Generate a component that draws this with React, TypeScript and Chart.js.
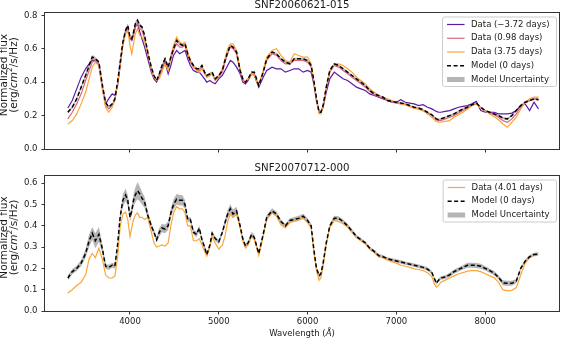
import React, { useEffect, useRef } from "react";
import { Chart, registerables } from "chart.js";

Chart.register(...registerables);

const FONT = '"DejaVu Sans", "Liberation Sans", sans-serif';

// ---------- data ----------
const WAVELENGTH = [
  3300, 3350, 3400, 3450, 3500, 3540, 3575, 3610, 3650, 3690,
  3725, 3760, 3800, 3830, 3860, 3890, 3920, 3950, 3975, 4000,
  4020, 4040, 4060, 4085, 4110, 4135, 4165, 4200, 4240, 4270,
  4300, 4330, 4360, 4395, 4430, 4460, 4490, 4525, 4560, 4590,
  4620, 4650, 4680, 4715, 4750, 4780, 4810, 4840, 4865, 4900,
  4925, 4960, 5000, 5040, 5070, 5100, 5130, 5160, 5200, 5240,
  5270, 5300, 5330, 5370, 5400, 5450, 5500, 5540, 5600, 5650,
  5700, 5750, 5800, 5850, 5900, 5950, 6000, 6040, 6070, 6100,
  6130, 6150, 6175, 6210, 6250, 6300, 6350, 6400, 6450, 6500,
  6550, 6600, 6650, 6700, 6750, 6800, 6850, 6900, 6950, 7000,
  7050, 7100, 7150, 7200, 7250, 7300, 7350, 7400, 7430, 7450,
  7475, 7500, 7550, 7600, 7650, 7700, 7750, 7800, 7850, 7900,
  7950, 8000, 8050, 8100, 8150, 8200, 8250, 8300, 8350, 8400,
  8450, 8500, 8550, 8600,
];

// SNF20060621-015
const TOP_DATA_M372 = [
  0.245, 0.29, 0.36, 0.43, 0.48, 0.51, 0.53, 0.53, 0.5, 0.36,
  0.27, 0.3, 0.33, 0.32, 0.38, 0.5, 0.63, 0.7, 0.72, 0.66,
  0.65, 0.68, 0.73, 0.75, 0.7, 0.66, 0.61, 0.54, 0.46, 0.42,
  0.4, 0.44, 0.48, 0.52, 0.45, 0.5, 0.56, 0.59, 0.57, 0.58,
  0.59, 0.54, 0.5, 0.47, 0.46, 0.46, 0.44, 0.42, 0.4, 0.41,
  0.4, 0.39, 0.42, 0.44, 0.47, 0.5, 0.53, 0.52, 0.49, 0.45,
  0.4, 0.39, 0.41, 0.45, 0.44, 0.37, 0.43, 0.47, 0.49, 0.48,
  0.48, 0.46, 0.47, 0.48, 0.48, 0.46, 0.47, 0.46, 0.39, 0.29,
  0.22, 0.22, 0.25, 0.34, 0.42, 0.46, 0.44, 0.42, 0.41, 0.39,
  0.37, 0.36, 0.35, 0.33, 0.32, 0.31, 0.3, 0.29, 0.28, 0.28,
  0.295, 0.28, 0.275, 0.27, 0.26, 0.265, 0.25, 0.24, 0.23, 0.225,
  0.22, 0.22, 0.225, 0.23, 0.24, 0.25, 0.255, 0.26, 0.27, 0.285,
  0.23, 0.22, 0.22, 0.22, 0.21, 0.21, 0.21, 0.215, 0.23, 0.26,
  0.27, 0.23, 0.28, 0.24,
];
const TOP_DATA_P098 = [
  0.18, 0.22, 0.27, 0.33, 0.41, 0.47, 0.52, 0.53, 0.51, 0.37,
  0.26, 0.24, 0.26, 0.29, 0.39, 0.51, 0.63, 0.7, 0.72, 0.66,
  0.65, 0.69, 0.73, 0.75, 0.72, 0.71, 0.66, 0.57, 0.48, 0.43,
  0.41, 0.44, 0.49, 0.53, 0.48, 0.54, 0.59, 0.63, 0.61, 0.61,
  0.62, 0.56, 0.52, 0.49, 0.47, 0.47, 0.49, 0.45, 0.43, 0.44,
  0.45, 0.41, 0.43, 0.46, 0.52, 0.57, 0.61, 0.6, 0.57, 0.46,
  0.41, 0.4, 0.42, 0.45, 0.45, 0.38, 0.46, 0.53, 0.57, 0.56,
  0.53, 0.51, 0.51, 0.53, 0.53, 0.53, 0.52, 0.49, 0.4, 0.3,
  0.22, 0.22, 0.26, 0.36, 0.46, 0.5, 0.49, 0.47, 0.45, 0.43,
  0.41, 0.39, 0.37, 0.345, 0.325, 0.315, 0.305, 0.29, 0.28, 0.275,
  0.27, 0.265, 0.255, 0.245, 0.24, 0.23, 0.215, 0.2, 0.185, 0.175,
  0.17, 0.17, 0.18, 0.19, 0.2, 0.215, 0.23, 0.245, 0.26, 0.27,
  0.245, 0.225, 0.215, 0.205, 0.19, 0.17, 0.16, 0.18, 0.21, 0.25,
  0.275, 0.29, 0.3, 0.3,
];
const TOP_DATA_P375 = [
  0.15, 0.17, 0.21, 0.27, 0.34, 0.42, 0.49, 0.52, 0.5, 0.36,
  0.25, 0.22, 0.25, 0.3, 0.39, 0.51, 0.62, 0.69, 0.71, 0.62,
  0.57, 0.63, 0.69, 0.72, 0.68, 0.67, 0.64, 0.57, 0.48, 0.43,
  0.41, 0.42, 0.46, 0.51, 0.47, 0.56, 0.62, 0.67, 0.64, 0.63,
  0.64, 0.58, 0.53, 0.5, 0.47, 0.46, 0.48, 0.45, 0.43, 0.44,
  0.45, 0.41, 0.44, 0.48, 0.54, 0.6, 0.63, 0.63, 0.59, 0.48,
  0.42, 0.4, 0.42, 0.45, 0.44, 0.38, 0.47, 0.55, 0.59, 0.6,
  0.56, 0.53, 0.52, 0.57, 0.56, 0.55, 0.55, 0.51, 0.41, 0.29,
  0.21, 0.21, 0.25, 0.37, 0.47, 0.51, 0.51, 0.5, 0.48, 0.46,
  0.43, 0.41, 0.39, 0.36, 0.34, 0.32, 0.31, 0.3, 0.29, 0.28,
  0.27, 0.265, 0.255, 0.245, 0.24, 0.23, 0.21, 0.19, 0.175, 0.165,
  0.16, 0.16, 0.165, 0.17, 0.19, 0.205, 0.22, 0.24, 0.26, 0.27,
  0.245, 0.23, 0.21, 0.195, 0.175, 0.15, 0.13, 0.16, 0.19, 0.24,
  0.28, 0.3, 0.31, 0.31,
];
const TOP_MODEL = [
  0.22, 0.25, 0.3, 0.37, 0.44, 0.5, 0.55, 0.54, 0.52, 0.38,
  0.28, 0.25, 0.27, 0.3, 0.4, 0.52, 0.64, 0.71, 0.74, 0.67,
  0.66, 0.7, 0.75, 0.77, 0.74, 0.73, 0.68, 0.58, 0.49, 0.44,
  0.41, 0.45, 0.5, 0.54, 0.49, 0.55, 0.6, 0.65, 0.63, 0.62,
  0.63, 0.57, 0.53, 0.5, 0.48, 0.48, 0.5, 0.46, 0.44, 0.45,
  0.46, 0.42, 0.44, 0.47, 0.53, 0.58, 0.62, 0.61, 0.58, 0.47,
  0.42, 0.4, 0.42, 0.46, 0.46, 0.38, 0.46, 0.54, 0.58, 0.57,
  0.54, 0.52, 0.51, 0.54, 0.54, 0.54, 0.53, 0.5, 0.41, 0.3,
  0.22, 0.22, 0.26, 0.37, 0.47, 0.51, 0.5, 0.48, 0.46, 0.44,
  0.42, 0.4, 0.38, 0.35, 0.33, 0.32, 0.31, 0.29, 0.285, 0.28,
  0.275, 0.27, 0.26, 0.25, 0.245, 0.235, 0.22, 0.205, 0.19, 0.18,
  0.175, 0.18, 0.19, 0.2, 0.21, 0.225, 0.24, 0.25, 0.265, 0.275,
  0.25, 0.23, 0.22, 0.21, 0.2, 0.185, 0.18, 0.2, 0.23, 0.26,
  0.28, 0.29, 0.3, 0.295,
];
const TOP_MODEL_ERR = [
  0.008, 0.008, 0.009, 0.01, 0.01, 0.012, 0.012, 0.012, 0.01, 0.008,
  0.006, 0.006, 0.006, 0.006, 0.008, 0.01, 0.012, 0.012, 0.012, 0.01,
  0.01, 0.012, 0.012, 0.012, 0.012, 0.01, 0.01, 0.008, 0.008, 0.006,
  0.006, 0.008, 0.008, 0.008, 0.008, 0.008, 0.01, 0.01, 0.01, 0.01,
  0.008, 0.006, 0.006, 0.006, 0.006, 0.006, 0.006, 0.006, 0.006, 0.006,
  0.006, 0.006, 0.006, 0.006, 0.008, 0.008, 0.008, 0.008, 0.008, 0.006,
  0.006, 0.006, 0.006, 0.006, 0.006, 0.006, 0.006, 0.006, 0.006, 0.006,
  0.006, 0.006, 0.006, 0.006, 0.006, 0.006, 0.006, 0.006, 0.006, 0.006,
  0.006, 0.006, 0.006, 0.006, 0.006, 0.006, 0.006, 0.006, 0.006, 0.006,
  0.005, 0.005, 0.005, 0.005, 0.005, 0.005, 0.005, 0.005, 0.005, 0.005,
  0.005, 0.005, 0.005, 0.005, 0.005, 0.005, 0.005, 0.005, 0.005, 0.005,
  0.005, 0.005, 0.005, 0.005, 0.005, 0.005, 0.005, 0.005, 0.005, 0.005,
  0.005, 0.005, 0.005, 0.005, 0.005, 0.006, 0.006, 0.006, 0.006, 0.006,
  0.006, 0.006, 0.006, 0.006,
];

// SNF20070712-000
const BOT_DATA_P401 = [
  0.085, 0.1, 0.12, 0.135, 0.17, 0.245, 0.27, 0.25, 0.295, 0.24,
  0.17, 0.155, 0.155, 0.165, 0.25, 0.4, 0.455, 0.465, 0.43, 0.35,
  0.39, 0.43, 0.45, 0.46, 0.44, 0.44, 0.43, 0.44, 0.37, 0.32,
  0.3, 0.305, 0.31, 0.305, 0.32, 0.4, 0.46, 0.49, 0.48, 0.48,
  0.46, 0.4, 0.4, 0.33, 0.33, 0.34, 0.31, 0.28, 0.258, 0.3,
  0.35, 0.32, 0.29, 0.31, 0.35, 0.42, 0.455, 0.44, 0.455, 0.39,
  0.33, 0.295, 0.31, 0.35, 0.335, 0.26, 0.35, 0.43, 0.46, 0.445,
  0.405, 0.39, 0.415, 0.425, 0.43, 0.435, 0.415, 0.39, 0.28, 0.19,
  0.145, 0.155, 0.21, 0.31, 0.39, 0.425, 0.42, 0.41, 0.395, 0.37,
  0.345, 0.33, 0.315, 0.29, 0.275, 0.255, 0.25, 0.24, 0.23, 0.225,
  0.215, 0.21, 0.205, 0.198, 0.195, 0.19, 0.18, 0.16, 0.125, 0.112,
  0.12, 0.135, 0.145, 0.155, 0.165, 0.175, 0.18, 0.187, 0.19, 0.19,
  0.185, 0.175, 0.165, 0.157, 0.134, 0.1, 0.095, 0.097, 0.11, 0.17,
  0.225, 0.25, 0.265, 0.268,
];
const BOT_MODEL = [
  0.155, 0.185, 0.2, 0.225, 0.27, 0.33, 0.365, 0.33, 0.36, 0.29,
  0.21, 0.205, 0.215, 0.21, 0.31, 0.445, 0.52, 0.545, 0.52, 0.44,
  0.47, 0.52, 0.545, 0.565, 0.55, 0.53, 0.51, 0.45, 0.4, 0.37,
  0.335, 0.37, 0.39, 0.385, 0.4, 0.46, 0.5, 0.525, 0.52, 0.52,
  0.5, 0.43, 0.43, 0.37, 0.36, 0.39, 0.335, 0.3, 0.265, 0.31,
  0.365, 0.34, 0.325, 0.37, 0.415, 0.455, 0.48, 0.455, 0.47, 0.4,
  0.34, 0.305, 0.32, 0.36, 0.345, 0.27, 0.36, 0.44, 0.47, 0.455,
  0.42, 0.4, 0.425, 0.43, 0.435, 0.445, 0.425, 0.4, 0.29, 0.2,
  0.165, 0.175, 0.225, 0.32, 0.4, 0.435, 0.435, 0.42, 0.4, 0.375,
  0.35, 0.335, 0.32, 0.295, 0.28, 0.26, 0.255, 0.245, 0.24, 0.235,
  0.23, 0.225, 0.22, 0.215, 0.21, 0.205, 0.197, 0.18, 0.15, 0.13,
  0.145, 0.155, 0.16, 0.17, 0.185, 0.195, 0.205, 0.215, 0.215, 0.214,
  0.21, 0.2, 0.19, 0.178, 0.158, 0.132, 0.13, 0.13, 0.14, 0.2,
  0.234, 0.255, 0.265, 0.268,
];
const BOT_MODEL_ERR = [
  0.012, 0.012, 0.012, 0.015, 0.02, 0.03, 0.03, 0.035, 0.035, 0.02,
  0.012, 0.012, 0.012, 0.012, 0.015, 0.02, 0.03, 0.03, 0.025, 0.02,
  0.02, 0.03, 0.035, 0.04, 0.035, 0.03, 0.025, 0.02, 0.015, 0.012,
  0.012, 0.02, 0.02, 0.02, 0.02, 0.02, 0.025, 0.025, 0.025, 0.025,
  0.02, 0.012, 0.012, 0.012, 0.012, 0.012, 0.012, 0.01, 0.01, 0.01,
  0.012, 0.01, 0.01, 0.012, 0.015, 0.02, 0.022, 0.02, 0.02, 0.012,
  0.01, 0.01, 0.01, 0.012, 0.012, 0.01, 0.01, 0.012, 0.012, 0.012,
  0.01, 0.01, 0.01, 0.012, 0.012, 0.012, 0.01, 0.01, 0.01, 0.01,
  0.01, 0.01, 0.01, 0.01, 0.01, 0.012, 0.01, 0.01, 0.01, 0.01,
  0.008, 0.008, 0.008, 0.008, 0.008, 0.008, 0.008, 0.008, 0.008, 0.008,
  0.008, 0.008, 0.008, 0.008, 0.008, 0.008, 0.008, 0.008, 0.008, 0.008,
  0.008, 0.008, 0.008, 0.01, 0.01, 0.01, 0.01, 0.012, 0.012, 0.012,
  0.012, 0.01, 0.01, 0.01, 0.01, 0.012, 0.012, 0.012, 0.01, 0.008,
  0.008, 0.008, 0.008, 0.008,
];

// ---------- axes / text ----------
const X_MIN = 3043;
const X_MAX = 8831;
const X_TICKS = [4000, 5000, 6000, 7000, 8000];
const X_TICK_LABELS = ["4000", "5000", "6000", "7000", "8000"];
const TOP_Y_MAX = 0.814;
const TOP_Y_TICKS = [0, 0.2, 0.4, 0.6, 0.8];
const TOP_Y_TICK_LABELS = ["0.0", "0.2", "0.4", "0.6", "0.8"];
const BOT_Y_MAX = 0.634;
const BOT_Y_TICKS = [0, 0.1, 0.2, 0.3, 0.4, 0.5, 0.6];
const BOT_Y_TICK_LABELS = ["0.0", "0.1", "0.2", "0.3", "0.4", "0.5", "0.6"];

const TOP_TITLE = "SNF20060621-015";
const BOT_TITLE = "SNF20070712-000";

type Seg = { t: string; italic?: boolean; sup?: boolean };
const Y_LABEL_LINE1: Seg[] = [{ t: "Normalized flux" }];
const Y_LABEL_LINE2: Seg[] = [
  { t: "(erg/" },
  { t: "cm", italic: true },
  { t: "2", sup: true },
  { t: "/s/Hz)" },
];
const X_LABEL: Seg[] = [{ t: "Wavelength (" }, { t: "Å", italic: true }, { t: ")" }];

const COLOR_PURPLE = "#5b1ba6";
const COLOR_PINK = "#dc6580";
const COLOR_ORANGE = "#fca636";
const COLOR_MODEL = "#000000";
const BAND_COLOR = "rgba(150,150,150,0.7)";
const SPINE = "#333333";
const TEXT = "#1a1a1a";

type LineSpec = {
  label: string;
  values: number[];
  color: string;
  width: number;
  dash: number[];
  order: number;
};

const TOP_LINES: LineSpec[] = [
  { label: "Data (\u22123.72 days)", values: TOP_DATA_M372, color: COLOR_PURPLE, width: 1.2, dash: [], order: 3 },
  { label: "Data (0.98 days)", values: TOP_DATA_P098, color: COLOR_PINK, width: 1.2, dash: [], order: 2 },
  { label: "Data (3.75 days)", values: TOP_DATA_P375, color: COLOR_ORANGE, width: 1.2, dash: [], order: 1 },
  { label: "Model (0 days)", values: TOP_MODEL, color: COLOR_MODEL, width: 1.5, dash: [4, 2.5], order: 0 },
];
const BOT_LINES: LineSpec[] = [
  { label: "Data (4.01 days)", values: BOT_DATA_P401, color: COLOR_ORANGE, width: 1.2, dash: [], order: 1 },
  { label: "Model (0 days)", values: BOT_MODEL, color: COLOR_MODEL, width: 1.5, dash: [4, 2.5], order: 0 },
];
const BAND_LABEL = "Model Uncertainty";

// ---------- helpers ----------
function pts(values: number[]) {
  return WAVELENGTH.map((x, i) => ({ x, y: values[i] }));
}

function buildDatasets(lines: LineSpec[], model: number[], err: number[]) {
  const ds: any[] = lines.map((l) => ({
    label: l.label,
    data: pts(l.values),
    borderColor: l.color,
    borderWidth: l.width,
    borderDash: l.dash,
    pointRadius: 0,
    fill: false,
    tension: 0,
    order: l.order,
  }));
  ds.push({
    label: "upper",
    data: pts(model.map((m, i) => m + err[i])),
    borderColor: "rgba(0,0,0,0)",
    borderWidth: 0,
    pointRadius: 0,
    fill: false,
    order: 20,
  });
  ds.push({
    label: BAND_LABEL,
    data: pts(model.map((m, i) => m - err[i])),
    borderColor: "rgba(0,0,0,0)",
    borderWidth: 0,
    pointRadius: 0,
    fill: "-1",
    backgroundColor: BAND_COLOR,
    order: 20,
  });
  return ds;
}

function segFont(s: Seg, size: number) {
  return `${s.italic ? "italic " : ""}${s.sup ? size * 0.7 : size}px ${FONT}`;
}

function drawSegs(ctx: CanvasRenderingContext2D, segs: Seg[], cx: number, cy: number, size: number) {
  const widths = segs.map((s) => {
    ctx.font = segFont(s, size);
    return ctx.measureText(s.t).width;
  });
  const total = widths.reduce((a, b) => a + b, 0);
  let x = cx - total / 2;
  ctx.textAlign = "left";
  ctx.textBaseline = "middle";
  segs.forEach((s, i) => {
    ctx.font = segFont(s, size);
    ctx.fillText(s.t, x, cy + (s.sup ? -size * 0.38 : 0));
    x += widths[i];
  });
}

type LegendItem = { label: string; color: string; width: number; dash: number[]; patch?: boolean };

function makeDecor(title: string, legend: LegendItem[], showXLabel: boolean) {
  return {
    id: "decor",
    afterDraw(chart: any) {
      const ctx: CanvasRenderingContext2D = chart.ctx;
      const a = chart.chartArea;
      ctx.save();
      // frame (spines)
      ctx.strokeStyle = SPINE;
      ctx.lineWidth = 1;
      ctx.setLineDash([]);
      ctx.strokeRect(Math.round(a.left) - 0.5, Math.round(a.top) - 0.5, Math.round(a.right - a.left) + 1, Math.round(a.bottom - a.top) + 1);

      // title
      ctx.fillStyle = TEXT;
      ctx.font = `10.2px ${FONT}`;
      ctx.textAlign = "center";
      ctx.textBaseline = "alphabetic";
      ctx.fillText(title, (a.left + a.right) / 2, a.top - 5);

      // y label (two lines, rotated)
      const cy = (a.top + a.bottom) / 2 - 6;
      [
        { segs: Y_LABEL_LINE1, x: 4.5 },
        { segs: Y_LABEL_LINE2, x: 14.5 },
      ].forEach((ln) => {
        ctx.save();
        ctx.translate(ln.x, cy);
        ctx.rotate(-Math.PI / 2);
        ctx.fillStyle = TEXT;
        drawSegs(ctx, ln.segs, 0, 0, 10.5);
        ctx.restore();
      });

      // x label
      if (showXLabel) {
        ctx.fillStyle = TEXT;
        drawSegs(ctx, X_LABEL, (a.left + a.right) / 2, chart.height - 5, 8.5);
      }

      // legend
      const fs = 8.5;
      ctx.font = `${fs}px ${FONT}`;
      const maxW = Math.max(...legend.map((it) => ctx.measureText(it.label).width));
      const rowH = 13.75;
      const w = 28.5 + maxW + 7;
      const h = 7.5 + (legend.length - 1) * rowH + 7;
      const x0 = a.right - 2.5 - w;
      const y0 = a.top + 4;
      ctx.beginPath();
      const r = 2;
      ctx.moveTo(x0 + r, y0);
      ctx.lineTo(x0 + w - r, y0);
      ctx.arcTo(x0 + w, y0, x0 + w, y0 + r, r);
      ctx.lineTo(x0 + w, y0 + h - r);
      ctx.arcTo(x0 + w, y0 + h, x0 + w - r, y0 + h, r);
      ctx.lineTo(x0 + r, y0 + h);
      ctx.arcTo(x0, y0 + h, x0, y0 + h - r, r);
      ctx.lineTo(x0, y0 + r);
      ctx.arcTo(x0, y0, x0 + r, y0, r);
      ctx.closePath();
      ctx.fillStyle = "rgba(255,255,255,0.85)";
      ctx.fill();
      ctx.strokeStyle = "#cccccc";
      ctx.lineWidth = 1;
      ctx.stroke();
      legend.forEach((it, i) => {
        const ry = y0 + 7.5 + i * rowH;
        if (it.patch) {
          ctx.fillStyle = it.color;
          ctx.fillRect(x0 + 4.5, ry - 2.5, 17.5, 5);
        } else {
          ctx.beginPath();
          ctx.strokeStyle = it.color;
          ctx.lineWidth = it.width;
          ctx.setLineDash(it.dash);
          ctx.moveTo(x0 + 4.5, ry);
          ctx.lineTo(x0 + 22, ry);
          ctx.stroke();
          ctx.setLineDash([]);
        }
        ctx.fillStyle = TEXT;
        ctx.font = `${fs}px ${FONT}`;
        ctx.textAlign = "left";
        ctx.textBaseline = "middle";
        ctx.fillText(it.label, x0 + 28.5, ry);
      });
      ctx.restore();
    },
  };
}

function makeConfig(opts: {
  lines: LineSpec[];
  model: number[];
  err: number[];
  yMax: number;
  yTicks: number[];
  yTickLabels: string[];
  xHeight: number;
  showXTickLabels: boolean;
  title: string;
}) {
  const legend: LegendItem[] = [
    ...opts.lines.map((l) => ({ label: l.label, color: l.color, width: l.width, dash: l.dash })),
    { label: BAND_LABEL, color: BAND_COLOR, width: 0, dash: [], patch: true },
  ];
  const tickFont = { family: FONT, size: 8.5 };
  return {
    type: "line",
    data: { datasets: buildDatasets(opts.lines, opts.model, opts.err) },
    options: {
      animation: false,
      responsive: false,
      maintainAspectRatio: false,
      devicePixelRatio: 1,
      layout: { padding: { top: 13, right: 2, bottom: 0, left: 0 } },
      elements: { point: { radius: 0 }, line: { tension: 0 } },
      plugins: {
        legend: { display: false },
        tooltip: { enabled: false },
        title: { display: false },
      },
      scales: {
        x: {
          type: "linear",
          min: X_MIN,
          max: X_MAX,
          afterBuildTicks: (s: any) => {
            s.ticks = X_TICKS.map((v) => ({ value: v }));
          },
          afterFit: (s: any) => {
            s.height = opts.xHeight;
          },
          border: { display: false },
          grid: {
            drawOnChartArea: false,
            drawTicks: true,
            tickLength: 3.5,
            color: SPINE,
            lineWidth: 1,
          },
          ticks: {
            autoSkip: false,
            maxRotation: 0,
            padding: 2,
            color: TEXT,
            font: tickFont,
            callback: (_v: any, i: number) => (opts.showXTickLabels ? X_TICK_LABELS[i] : ""),
          },
        },
        y: {
          type: "linear",
          min: 0,
          max: opts.yMax,
          afterBuildTicks: (s: any) => {
            s.ticks = opts.yTicks.map((v) => ({ value: v }));
          },
          afterFit: (s: any) => {
            s.width = 45;
          },
          border: { display: false },
          grid: {
            drawOnChartArea: false,
            drawTicks: true,
            tickLength: 3.5,
            color: SPINE,
            lineWidth: 1,
          },
          ticks: {
            autoSkip: false,
            padding: 4,
            color: TEXT,
            font: tickFont,
            callback: (_v: any, i: number) => opts.yTickLabels[i],
          },
        },
      },
    },
    plugins: [makeDecor(opts.title, legend, opts.showXTickLabels)],
  };
}

const TOP_H = 163;
const BOT_H = 176;

export default function App() {
  const topRef = useRef<HTMLCanvasElement | null>(null);
  const botRef = useRef<HTMLCanvasElement | null>(null);

  useEffect(() => {
    document.body.style.margin = "0";
    const charts: Chart[] = [];
    if (topRef.current) {
      charts.push(
        new Chart(
          topRef.current,
          makeConfig({
            lines: TOP_LINES,
            model: TOP_MODEL,
            err: TOP_MODEL_ERR,
            yMax: TOP_Y_MAX,
            yTicks: TOP_Y_TICKS,
            yTickLabels: TOP_Y_TICK_LABELS,
            xHeight: 14,
            showXTickLabels: false,
            title: TOP_TITLE,
          }) as any
        )
      );
    }
    if (botRef.current) {
      charts.push(
        new Chart(
          botRef.current,
          makeConfig({
            lines: BOT_LINES,
            model: BOT_MODEL,
            err: BOT_MODEL_ERR,
            yMax: BOT_Y_MAX,
            yTicks: BOT_Y_TICKS,
            yTickLabels: BOT_Y_TICK_LABELS,
            xHeight: 28,
            showXTickLabels: true,
            title: BOT_TITLE,
          }) as any
        )
      );
    }
    return () => charts.forEach((c) => c.destroy());
  }, []);

  return (
    <div style={{ position: "relative", width: 561, height: 339, background: "#ffffff" }}>
      <canvas
        ref={topRef}
        width={561}
        height={TOP_H}
        style={{ position: "absolute", left: 0, top: 0, width: 561, height: TOP_H }}
      />
      <canvas
        ref={botRef}
        width={561}
        height={BOT_H}
        style={{ position: "absolute", left: 0, top: TOP_H, width: 561, height: BOT_H }}
      />
    </div>
  );
}
